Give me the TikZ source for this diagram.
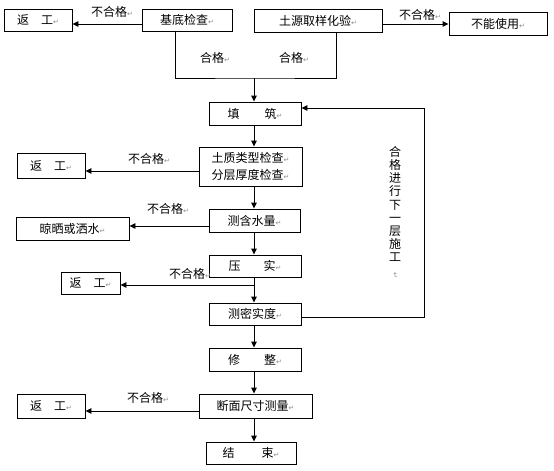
\documentclass[tikz,border=0pt]{standalone}
\usepackage{fontspec}
\newfontfamily\cjk{Noto Sans CJK SC}
\newfontfamily\djv{DejaVu Sans}
\usetikzlibrary{arrows.meta}
\newcommand\pmk{{\djv\fontsize{7}{7}\selectfont\color{black!45}↵}}
\tikzset{
  box/.style={draw, line width=0.9pt, inner sep=0pt, font=\cjk\fontsize{12}{17}\selectfont, align=center},
  lbl/.style={inner sep=0pt, font=\cjk\fontsize{12}{14}\selectfont},
  ln/.style={line width=0.9pt},
  arr/.style={line width=0.9pt, -{Triangle[length=6pt,width=5.5pt]}}
}
\begin{document}
\begin{tikzpicture}[x=1pt,y=-1pt]
\useasboundingbox (0,0) rectangle (554,471);
% boxes
\node[box, minimum width=68, minimum height=22] (fg1) at (38,20) {返\hspace{12pt}工\pmk};
\node[box, minimum width=90, minimum height=22] (jd) at (187,20) {基底检查\pmk};
\node[box, minimum width=128, minimum height=23] (ty) at (318,20.5) {土源取样化验\pmk};
\node[box, minimum width=98, minimum height=23] (bn) at (498,23.5) {不能使用\pmk};
\node[box, minimum width=92, minimum height=23] (tz) at (255,113.5) {填\hspace{25pt}筑\pmk};
\node[box, minimum width=103, minimum height=39] (tl) at (250.5,166.5) {土质类型检查\pmk\\分层厚度检查\pmk};
\node[box, minimum width=68, minimum height=25] (fg2) at (51,165.5) {返\hspace{12pt}工\pmk};
\node[box, minimum width=91, minimum height=23] (hs) at (254.5,220.5) {测含水量\pmk};
\node[box, minimum width=113, minimum height=23] (ls) at (72.5,228.5) {晾晒或洒水\pmk};
\node[box, minimum width=92, minimum height=22] (ys) at (255,266) {压\hspace{23pt}实\pmk};
\node[box, minimum width=59, minimum height=22] (fg3) at (90.5,283) {返\hspace{12pt}工\pmk};
\node[box, minimum width=92, minimum height=22] (md) at (255,314) {测密实度\pmk};
\node[box, minimum width=92, minimum height=23] (xz) at (255,359.5) {修\hspace{24pt}整\pmk};
\node[box, minimum width=113, minimum height=24] (dm) at (255.5,406) {断面尺寸测量\pmk};
\node[box, minimum width=68, minimum height=24] (fg4) at (51,406) {返\hspace{12pt}工\pmk};
\node[box, minimum width=90, minimum height=22] (js) at (251,453) {结\hspace{27pt}束\pmk};
% labels
\node[lbl] (l1) at (112,12) {不合格\pmk};
\node[lbl] (l2) at (420,15) {不合格\pmk};
\node[lbl] (l3) at (215,58) {合格\pmk};
\node[lbl] (l4) at (294,58) {合格\pmk};
\node[lbl] (l5) at (149,159) {不合格\pmk};
\node[lbl] (l6) at (168,209) {不合格\pmk};
\node[lbl] (l7) at (190,274) {不合格\pmk};
\node[lbl] (l8) at (148,398) {不合格\pmk};
\node[inner sep=0pt, align=center, font=\cjk\fontsize{12}{13.2}\selectfont] (vt) at (395,212)
  {合\\格\\进\\行\\下\\一\\层\\施\\工\\[-3pt]\rotatebox{-90}{\pmk}};
% helper coordinates
\coordinate (sp) at (254,0);
\coordinate (lp) at (424,0);
\coordinate (join) at (254,78);
\coordinate (br) at (254,285);
% top connectors
\draw[arr] ([yshift=-4pt]jd.west) -- ([yshift=-4pt]jd.west -| fg1.east);
\draw[arr] ([yshift=-3.5pt]ty.east) -- ([yshift=-3.5pt]ty.east -| bn.west);
\draw[ln] ([xshift=-12pt]jd.south) |- (join) -| ([xshift=18pt]ty.south);
\draw[arr] (join) -- (join |- tz.north);
% spine
\draw[arr] (tz.south -| sp) -- (tl.north -| sp);
\draw[arr] (tl.south -| sp) -- (hs.north -| sp);
\draw[arr] (hs.south -| sp) -- (ys.north -| sp);
\draw[ln] (ys.south -| sp) -- (br);
\draw[arr] (br) -- (md.north -| sp);
\draw[arr] (md.south -| sp) -- (xz.north -| sp);
\draw[arr] (xz.south -| sp) -- (dm.north -| sp);
\draw[arr] (dm.south -| sp) -- (js.north -| sp);
% rejects
\draw[arr] ([yshift=-4.5pt]tl.west) -- ([yshift=-4.5pt]tl.west -| fg2.east);
\draw[arr] ([yshift=-5.5pt]hs.west) -- ([yshift=-5.5pt]hs.west -| ls.east);
\draw[arr] (br) -- (br -| fg3.east);
\draw[arr] ([yshift=-5pt]dm.west) -- ([yshift=-5pt]dm.west -| fg4.east);
% feedback loop
\draw[arr] ([yshift=-3pt]md.east) -- ([yshift=-3pt]md.east -| lp) -- ([yshift=5.5pt]tz.east -| lp) -- ([yshift=5.5pt]tz.east);
\end{tikzpicture}
\end{document}
